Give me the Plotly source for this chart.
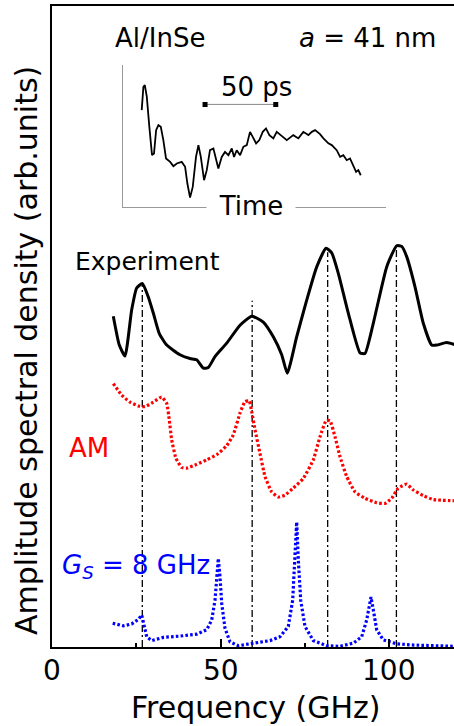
import plotly.graph_objects as go

FONT = "DejaVu Sans"

# ---------------- main spectra (frequency in GHz, amplitude in arb. units) -------------
exp_freq = [18.19, 19.97, 21.66, 23.65, 25.13, 26.80, 28.58, 30.06, 31.84, 34.04,
            37.98, 40.95, 42.94, 44.90, 46.38, 48.37, 51.84, 55.79, 59.26, 62.70,
            65.67, 68.16, 69.82, 72.61, 75.58, 78.55, 81.31, 83.00, 84.96, 87.92,
            91.39, 92.88, 95.34, 99.32, 102.28, 103.77, 105.25, 107.72, 110.18, 112.67,
            114.15, 117.12, 120.0]
exp_amp = [5.16, 4.71, 4.54, 5.26, 5.60, 5.67, 5.46, 5.21, 4.89, 4.71,
           4.56, 4.50, 4.48, 4.35, 4.36, 4.53, 4.74, 5.02, 5.16, 5.07,
           4.84, 4.56, 4.27, 4.84, 5.41, 5.93, 6.22, 6.15, 5.83, 5.21,
           4.59, 4.58, 5.05, 5.93, 6.26, 6.25, 6.09, 5.62, 5.05, 4.71,
           4.71, 4.75, 4.71]

am_freq = [18.19, 20.68, 23.15, 25.61, 27.60, 30.06, 32.55, 34.04, 34.81, 35.52,
           36.80, 38.49, 39.97, 42.94, 45.91, 48.87, 51.84, 53.80, 55.79, 57.27,
           58.55, 59.26, 60.24, 61.72, 63.20, 65.19, 67.15, 69.14, 71.60, 74.57,
           77.54, 79.53, 81.31, 82.49, 83.98, 85.46, 87.45, 89.91, 92.88, 96.35,
           98.81, 100.80, 102.76, 105.25, 107.21, 110.18, 113.15, 120.0]
am_amp = [4.11, 3.93, 3.82, 3.76, 3.75, 3.82, 3.90, 3.80, 3.54, 3.23,
          2.94, 2.80, 2.79, 2.85, 2.92, 3.00, 3.14, 3.31, 3.65, 3.83,
          3.84, 3.67, 3.39, 3.02, 2.66, 2.42, 2.34, 2.37, 2.48, 2.63,
          2.92, 3.28, 3.53, 3.53, 3.28, 2.97, 2.66, 2.42, 2.32, 2.25,
          2.24, 2.32, 2.48, 2.54, 2.45, 2.36, 2.30, 2.28]

gs_freq = [18.01, 21.16, 23.65, 25.61, 26.62, 27.30, 28.10, 29.58, 33.03, 37.98,
           42.94, 45.91, 47.39, 48.37, 49.05, 49.35, 49.85, 50.36, 51.34, 52.82,
           55.28, 59.73, 64.69, 67.66, 70.12, 71.42, 72.11, 72.61, 73.09, 73.80,
           75.07, 77.54, 81.51, 85.46, 89.41, 91.90, 93.38, 94.66, 95.34, 96.35,
           98.31, 102.28, 107.21, 120.0]
gs_amp = [0.37, 0.33, 0.36, 0.43, 0.50, 0.32, 0.16, 0.10, 0.15, 0.17,
          0.20, 0.27, 0.42, 0.73, 1.10, 1.38, 1.10, 0.68, 0.29, 0.08,
          0.02, 0.06, 0.10, 0.16, 0.32, 0.73, 1.36, 1.95, 1.36, 0.73,
          0.32, 0.10, 0.02, 0.01, 0.06, 0.16, 0.42, 0.78, 0.58, 0.27,
          0.11, 0.05, 0.03, 0.01]

# dash-dot guide lines at experimental peaks
peak_freq = [26.8, 59.4, 81.8, 102.2]
peak_top = [5.68, 5.40, 6.16, 6.26]

# x tick labels
xtick_vals = [0, 50, 100]
xtick_text = ["0", "50", "100"]

# ---------------- inset: time trace (time in ps, signal in arb. units) ------------------
t_ps = [13.4, 14.6, 15.6, 17.0, 18.8, 20.7, 22.1, 23.6, 25.2, 26.9, 28.7, 30.6, 33.5,
        35.8, 38.2, 41.7, 44.1, 45.7, 47.6, 49.5, 51.8, 53.5, 55.2, 57.5, 59.4, 61.7,
        64.1, 66.0, 67.6, 70.0, 72.3, 74.7, 77.1, 78.7, 80.6, 83.0, 85.3, 87.7, 90.0,
        91.9, 94.3, 96.6, 99.0, 101.3, 103.7, 106.5, 108.9, 111.7, 116.0, 120.6, 124.2,
        127.7, 131.3, 133.7, 136.0, 139.5, 141.9, 145.4, 147.8, 151.3, 153.7, 156.0,
        158.4, 160.7, 163.1, 165.0, 166.6, 168.3]
sig = [0.683, 0.847, 0.859, 0.777, 0.565, 0.366, 0.378, 0.542, 0.577, 0.565, 0.472,
       0.343, 0.319, 0.289, 0.308, 0.319, 0.284, 0.167, 0.068, 0.143, 0.354, 0.437,
       0.354, 0.190, 0.261, 0.401, 0.413, 0.331, 0.273, 0.354, 0.389, 0.366, 0.413,
       0.354, 0.401, 0.366, 0.425, 0.437, 0.530, 0.495, 0.449, 0.472, 0.530, 0.554,
       0.507, 0.484, 0.530, 0.507, 0.472, 0.507, 0.484, 0.530, 0.507, 0.530, 0.542,
       0.514, 0.484, 0.449, 0.437, 0.401, 0.354, 0.366, 0.331, 0.343, 0.284, 0.249,
       0.261, 0.225]
scalebar_t = [58.2, 108.2]
scalebar_s = [0.723, 0.723]

fig = go.Figure()

# guide lines
gx, gy = [], []
for f, top in zip(peak_freq, peak_top):
    gx += [f, f, None]
    gy += [0, top, None]
fig.add_trace(go.Scatter(x=gx, y=gy, mode="lines",
                         line=dict(color="black", width=1.3, dash="7px,3px,2px,3px"),
                         hoverinfo="skip"))

fig.add_trace(go.Scatter(x=exp_freq, y=exp_amp, mode="lines",
                         line=dict(color="black", width=3, shape="spline", smoothing=0.5)))
fig.add_trace(go.Scatter(x=am_freq, y=am_amp, mode="lines",
                         line=dict(color="#ff0000", width=3.2, dash="2.6px,2.2px", shape="spline", smoothing=0.4)))
fig.add_trace(go.Scatter(x=gs_freq, y=gs_amp, mode="lines",
                         line=dict(color="#0000ff", width=3.2, dash="2.6px,2.2px")))

# inset
fig.add_trace(go.Scatter(x=t_ps, y=sig, mode="lines", xaxis="x2", yaxis="y2",
                         line=dict(color="black", width=1.8)))
fig.add_trace(go.Scatter(x=scalebar_t, y=scalebar_s, mode="lines", xaxis="x2", yaxis="y2",
                         line=dict(color="#888888", width=1)))
fig.add_trace(go.Scatter(x=scalebar_t, y=scalebar_s, mode="markers", xaxis="x2", yaxis="y2",
                         marker=dict(color="black", size=5, symbol="square")))

fig.update_layout(
    width=454, height=726,
    margin=dict(l=52, r=0, t=6, b=79),
    paper_bgcolor="white", plot_bgcolor="rgba(0,0,0,0)",
    showlegend=False,
    font=dict(family=FONT, color="black"),
    xaxis=dict(range=[0, 119.29], showline=True, linecolor="black", linewidth=2, mirror=True,
               ticks="inside", ticklen=8, tickwidth=2, tickcolor="black",
               tickvals=xtick_vals, showticklabels=False,
               minor=dict(tickvals=[25, 75], ticks="inside", ticklen=4, tickwidth=2, tickcolor="black"),
               showgrid=False, zeroline=False),
    yaxis=dict(range=[0, 10], showline=True, linecolor="black", linewidth=2,
               showticklabels=False, ticks="", showgrid=False, zeroline=False),
    xaxis2=dict(domain=[0.176, 0.831], anchor="y2", range=[0, 186.2], showline=True,
                linecolor="#999999", linewidth=1, showticklabels=False, ticks="",
                showgrid=False, zeroline=False),
    yaxis2=dict(domain=[0.686, 0.908], anchor="x2", range=[0, 1], showline=True,
                linecolor="#999999", linewidth=1, showticklabels=False, ticks="",
                showgrid=False, zeroline=False),
)

def ann(text, x, y, size, color="black", xanchor="center", yanchor="middle", xref="paper", **kw):
    fig.add_annotation(text=text, x=x, y=y, xref=xref, yref="paper", showarrow=False,
                       xanchor=xanchor, yanchor=yanchor,
                       font=dict(family=FONT, size=size, color=color), **kw)

for v, t in zip(xtick_vals, xtick_text):
    ann(t, v, -0.037, 28, xref="x")

ann("Al/InSe", 0.152, 0.950, 26, xanchor="left")
ann("<i>a</i> = 41 nm", 0.960, 0.950, 26, xanchor="right")
ann("50 ps", 0.509, 0.874, 26)
ann("Time", 0.494, 0.688, 26, bgcolor="white", width=88, borderpad=0)
ann("Experiment", 0.052, 0.601, 25, xanchor="left")
ann("AM", 0.037, 0.310, 26, color="#ff0000", xanchor="left")
ann("<i>G</i><sub><i>S</i></sub> = 8 GHz", 0.020, 0.126, 26, color="#0000ff", xanchor="left")
ann("Frequency (GHz)", 0.505, -0.094, 30)
ann("Amplitude spectral density (arb.units)", -0.062, 0.462, 30, textangle=-90)

fig.write_html("out.html")
